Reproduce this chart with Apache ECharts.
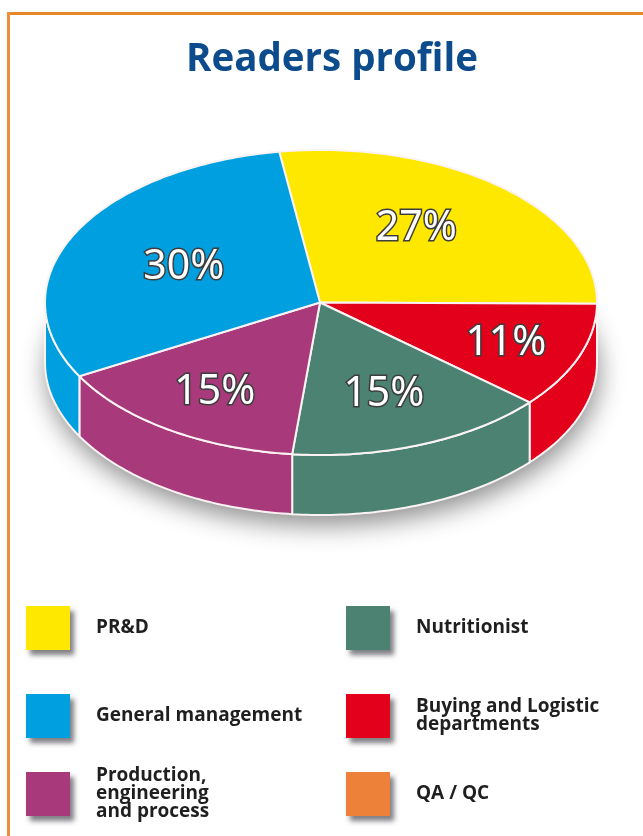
<!DOCTYPE html>
<html>
<head>
<meta charset="utf-8">
<title>Readers profile</title>
<script src="https://cdn.jsdelivr.net/npm/echarts@6/dist/echarts.min.js"></script>
<style>
  html, body { margin: 0; padding: 0; background: #fff; }
  #chart { width: 643px; height: 836px; }
</style>
</head>
<body>
<div id="chart"></div>
<script>
// values, QA / QC has no visible slice
var categories = ['PR&D', 'Buying and Logistic\ndepartments', 'Nutritionist', 'Production,\nengineering\nand process', 'General management', 'QA / QC'];
var shares = [27, 11, 15, 15, 30, 0];
var colors = ['#ffe800', '#e2001a', '#4b8272', '#a83a7c', '#009fe0', '#ee8139'];

// layout of the drawn pie
var cx = 321, cy = 302.5, rx = 276, ry = 152.5, depth = 60;
var firstAngle = -98.7; // degrees, 0 = east, clockwise
var labelRadius = [0.61, 0.72, 0.63, 0.69, 0.55, 0];
var labelTurn = [-6, 0, 0, 0, 0, 0];
var legendSpots = [[26, 606], [346, 693], [346, 606], [26, 762], [26, 694], [346, 772]];

var total = shares.reduce(function (a, b) { return a + b; }, 0);

function pointAt(deg, drop) {
  var t = deg * Math.PI / 180;
  return [cx + rx * Math.cos(t), cy + ry * Math.sin(t) + (drop || 0)];
}

function arcPoints(from, to, drop) {
  var pts = [];
  for (var d = from; d < to; d += 1) pts.push(pointAt(d, drop));
  pts.push(pointAt(to, drop));
  return pts;
}

// start angle of every slice
var starts = [];
var running = firstAngle;
shares.forEach(function (v) {
  starts.push(running);
  running += v / total * 360;
});

function renderSlice(i) {
  return function (params, api) {
    var value = api.value(0);
    if (!value) return { type: 'group', children: [] };
    var color = api.visual('color');
    var a0 = starts[i];
    var a1 = a0 + value / total * 360;
    var children = [];
    // side wall, only the part facing the viewer
    var w0 = Math.max(a0, 0), w1 = Math.min(a1, 180);
    if (w1 > w0) {
      children.push({
        type: 'polygon',
        shape: { points: arcPoints(w0, w1, 0).concat(arcPoints(w0, w1, depth).reverse()) },
        style: { fill: color, stroke: '#fbf3f3', lineWidth: 2 }
      });
    }
    children.push({
      type: 'polygon',
      shape: { points: [[cx - 1, cy]].concat(arcPoints(a0, a1, 0)) },
      style: { fill: color, stroke: '#fbf3f3', lineWidth: 2 }
    });
    var mid = (a0 + a1) / 2 + labelTurn[i];
    var t = mid * Math.PI / 180;
    children.push({
      type: 'text',
      z2: 10,
      style: {
        text: value + '%',
        x: cx - 1 + rx * labelRadius[i] * Math.cos(t),
        y: cy + 2 + ry * labelRadius[i] * Math.sin(t),
        align: 'center',
        verticalAlign: 'middle',
        fontFamily: 'Noto Sans',
        fontSize: 41,
        fill: '#ffffff',
        stroke: '#3d3d3d',
        lineWidth: 3
      }
    });
    return { type: 'group', children: children };
  };
}

var chart = echarts.init(document.getElementById('chart'));

chart.setOption({
  animation: false,
  backgroundColor: '#ffffff',
  title: {
    text: 'Readers profile',
    left: 181,
    top: 36,
    textStyle: { fontFamily: 'Open Sans', fontWeight: 'bold', fontSize: 38.5, color: '#0c4c8c' }
  },
  legend: categories.map(function (name, i) {
    return {
      data: [name],
      left: legendSpots[i][0],
      top: legendSpots[i][1],
      icon: 'rect',
      itemWidth: 44,
      itemHeight: 44,
      selectedMode: false,
      padding: 0,
      itemStyle: { shadowBlur: 5, shadowOffsetX: 4, shadowOffsetY: 5, shadowColor: 'rgba(40,40,50,0.6)' },
      textStyle: {
        fontFamily: 'Open Sans',
        fontWeight: 'bold',
        fontSize: 19,
        lineHeight: 18,
        color: '#1f1f1f',
        padding: [10, 0, 0, 21]
      }
    };
  }),
  graphic: [
    // page frame
    { type: 'rect', z: -5, shape: { x: 7, y: 12, width: 636, height: 3 }, style: { fill: '#e8862e' } },
    { type: 'rect', z: -5, shape: { x: 7, y: 12, width: 3, height: 824 }, style: { fill: '#ee8f3c' } },
    // soft shadow under the pie
    {
      type: 'polygon',
      z: -1,
      shape: { points: arcPoints(0, 360, depth - 2) },
      style: { fill: '#ffffff', shadowBlur: 26, shadowOffsetX: 2, shadowOffsetY: 12, shadowColor: 'rgba(0,0,0,0.45)' }
    }
  ],
  series: categories.map(function (name, i) {
    return {
      type: 'custom',
      name: name,
      coordinateSystem: 'none',
      silent: true,
      itemStyle: { color: colors[i] },
      renderItem: renderSlice(i),
      data: [shares[i]]
    };
  })
});
</script>
</body>
</html>
